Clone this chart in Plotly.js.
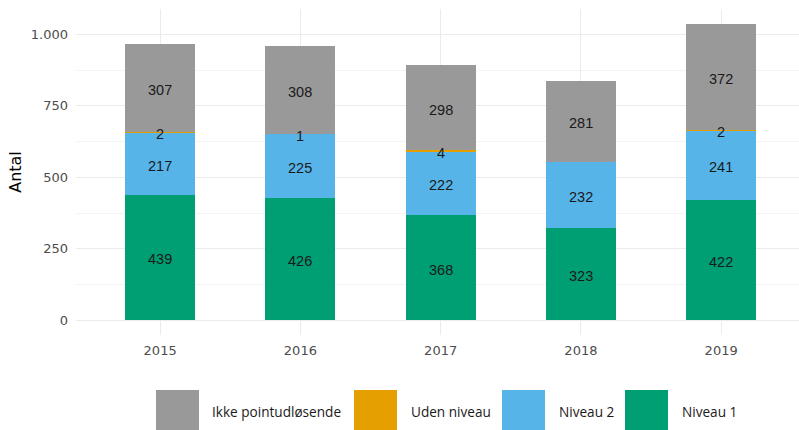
<!DOCTYPE html>
<html><head><meta charset="utf-8">
<script src="https://cdn.plot.ly/plotly-3.0.1.min.js"></script>
<style>html,body{margin:0;padding:0;background:#fff}#chart{width:799px;height:430px}</style>
</head><body><div id="chart"></div>
<script>
const years = ['2015','2016','2017','2018','2019'];
const niveau1 = [439,426,368,323,422];
const niveau2 = [217,225,222,232,241];
const udenNiveau = [2,1,4,0,2];
const ikkePoint = [307,308,298,281,372];
const seriesNames = ['Niveau 1','Niveau 2','Uden niveau','Ikke pointudløsende'];
const seriesColors = ['#009E73','#56B4E9','#E69F00','#999999'];
const seriesValues = [niveau1, niveau2, udenNiveau, ikkePoint];
const legendOrder = [3,2,1,0];

const W = 799, H = 430;
const M = {l:76, r:0, t:9, b:95};
const plotW = W - M.l - M.r, plotH = H - M.t - M.b;

const traces = [];
const annotations = [];
const cum = years.map(() => 0);
seriesValues.forEach((vals, i) => {
  traces.push({
    type:'bar', x: years, y: vals, name: seriesNames[i], width: 0.5,
    marker:{color: seriesColors[i], line:{width:0}}, hoverinfo:'skip', showlegend:false
  });
});
seriesValues.forEach((vals, i) => {
  vals.forEach((v, j) => {
    const m = cum[j] + v/2; cum[j] += v;
    if (v === 0) return;
    annotations.push({xref:'x', yref:'y', x: j, y: m, text: String(v), showarrow:false,
      xanchor:'center', yanchor:'middle', yshift:-2,
      font:{family:'Liberation Sans', size:14.5, color:'#1a1a1a'}});
  });
});
const maxTotal = Math.max(...cum);
const yLo = -0.05*maxTotal, yHi = maxTotal*1.05;

// legend built from series arrays
const legSwatchX = [156, 354, 502, 625];
const legTextX = [210, 409, 557, 680];
const px2x = p => (p - M.l)/plotW;
const px2y = p => (H - M.b - p)/plotH;
const shapes = [];
legendOrder.forEach((si, k) => {
  shapes.push({type:'rect', xref:'paper', yref:'paper', x0: px2x(legSwatchX[k]), x1: px2x(legSwatchX[k]+43),
    y0: px2y(390), y1: px2y(433), fillcolor: seriesColors[si], line:{width:0}});
  annotations.push({xref:'paper', yref:'paper', x: px2x(legTextX[k]), y: px2y(411.5), xanchor:'left', yanchor:'middle',
    text: seriesNames[si], showarrow:false, font:{family:'Open Sans, sans-serif', size:13.6, color:'#1a1a1a'}});
});

const layout = {
  width: W, height: H, margin: M,
  paper_bgcolor:'#fff', plot_bgcolor:'#fff',
  separators: ',.',
  showlegend:false,
  barmode:'stack',
  xaxis:{type:'category', range:[-0.6, 4.555], showgrid:true, gridcolor:'#ebebeb', gridwidth:1.1,
    zeroline:false, showline:false, ticks:'', ticklabelstandoff:6,
    tickfont:{family:'DejaVu Sans, sans-serif', size:13, color:'#4d4d4d'}},
  yaxis:{range:[yLo, yHi], tick0:0, dtick:250, tickformat:',', showgrid:true, gridcolor:'#ebebeb', gridwidth:1.1,
    zeroline:false, showline:false, ticks:'', ticklabelstandoff:7,
    minor:{tick0:0, dtick:125, showgrid:true, gridcolor:'#f4f4f4', gridwidth:1},
    tickfont:{family:'DejaVu Sans, sans-serif', size:13, color:'#4d4d4d'},
    title:{text:'Antal', font:{family:'DejaVu Sans, sans-serif', size:16, color:'#000'}, standoff:5}},
  shapes, annotations
};
Plotly.newPlot('chart', traces, layout, {staticPlot:true, displayModeBar:false});
</script></body></html>
